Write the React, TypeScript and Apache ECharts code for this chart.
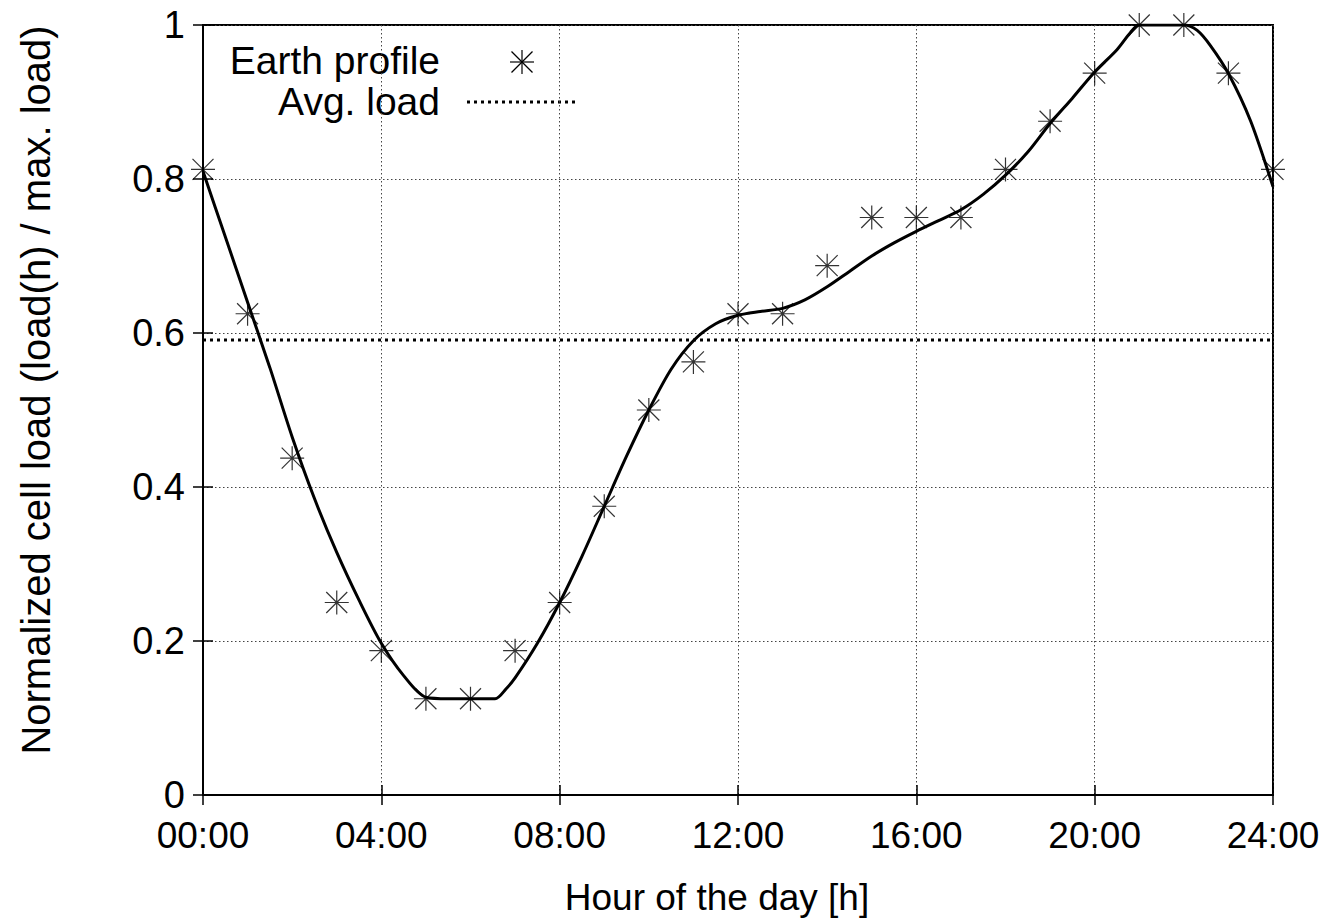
import React, { useEffect, useRef } from "react";
import * as echarts from "echarts";

const hours = [0,1,2,3,4,5,6,7,8,9,10,11,12,13,14,15,16,17,18,19,20,21,22,23,24];
const profile = [0.8125,0.625,0.4375,0.25,0.1875,0.125,0.125,0.1875,0.25,0.375,0.5,0.5625,0.625,0.625,0.6875,0.75,0.75,0.75,0.8125,0.875,0.9375,1,1,0.9375,0.8125];
const curveHours = [0,0.5,1,1.5,2,2.5,3,3.5,4,4.5,5,5.5,6,6.55,6.8,7,7.5,8,8.5,9,9.5,10,10.5,11,11.5,12,12.5,13,13.5,14,14.5,15,15.5,16,16.5,17,17.5,18,18.5,19,19.5,20,20.5,20.8,21,21.5,22,22.3,22.6,23,23.5,24];
const curveValues = [0.81,0.725,0.64,0.555,0.465,0.385,0.315,0.253,0.197,0.155,0.127,0.125,0.125,0.125,0.138,0.152,0.197,0.25,0.31,0.375,0.44,0.5,0.553,0.59,0.612,0.623,0.628,0.632,0.643,0.66,0.68,0.7,0.717,0.732,0.746,0.76,0.78,0.805,0.835,0.872,0.905,0.939,0.968,0.99,1.0,1.0,1.0,0.993,0.973,0.937,0.875,0.79];
const avgLoad = 0.591;
const yTicks = [0, 0.2, 0.4, 0.6, 0.8, 1];
const legendNames = ["Earth profile", "Avg. load"];
const xAxisName = "Hour of the day [h]";
const yAxisName = "Normalized cell load (load(h) / max. load)";

const FONT = "Liberation Sans, Arial, Helvetica, sans-serif";
const STAR = "path://M0 12L24 12M12 0L12 24M1.5 1.5L22.5 22.5M1.5 22.5L22.5 1.5";

export default function App() {
  const ref = useRef<HTMLDivElement>(null);
  useEffect(() => {
    document.body.style.margin = "0";
    const chart = echarts.init(ref.current!, null, { renderer: "svg" });
    const fmtHour = (v: number) => (v < 10 ? "0" : "") + v + ":00";
    const gridLine = { show: true, lineStyle: { color: "#444", width: 1, type: [1.5, 2.5] } };
    const tick = { show: true, inside: true, length: 10, lineStyle: { color: "#000", width: 1.5 } };
    const axLine = { show: true, lineStyle: { color: "#000", width: 2 } };
    chart.setOption({
      animation: false,
      backgroundColor: "#fff",
      textStyle: { fontFamily: FONT },
      grid: { left: 203, right: 56, top: 25, bottom: 127, show: true, borderColor: "#000", borderWidth: 2, backgroundColor: "transparent" },
      xAxis: [
        {
          type: "value", min: 0, max: 24, interval: 4,
          axisLine: axLine, axisTick: tick,
          axisLabel: { fontSize: 37, color: "#000", margin: 22, formatter: fmtHour, fontFamily: FONT },
          splitLine: gridLine,
        },
        {
          type: "value", min: 0, max: 24, interval: 4, position: "top",
          axisLine: axLine, axisTick: tick,
          axisLabel: { show: false }, splitLine: { show: false },
        },
      ],
      yAxis: [
        {
          type: "value", min: 0, max: 1, interval: 0.2,
          axisLine: axLine, axisTick: tick,
          axisLabel: {
            fontSize: 38, color: "#000", margin: 18, fontFamily: FONT,
            formatter: (v: number) => String(yTicks.find((t) => Math.abs(t - v) < 1e-9) ?? v),
          },
          splitLine: gridLine,
        },
        {
          type: "value", min: 0, max: 1, interval: 0.2, position: "right",
          axisLine: axLine, axisTick: tick,
          axisLabel: { show: false }, splitLine: { show: false },
        },
      ],
      series: [
        {
          name: legendNames[0], type: "scatter", xAxisIndex: 0, yAxisIndex: 0,
          data: hours.map((h, i) => [h, profile[i]]),
          symbol: STAR, symbolSize: 24,
          itemStyle: { color: "transparent", borderColor: "#000", borderWidth: 1.2 },
          z: 3,
        },
        {
          name: "fit", type: "line", xAxisIndex: 0, yAxisIndex: 0,
          data: curveHours.map((h, i) => [h, curveValues[i]]),
          showSymbol: false, symbol: "none", smooth: 0.3,
          lineStyle: { color: "#000", width: 3 },
          z: 4,
        },
        {
          name: legendNames[1], type: "line", xAxisIndex: 0, yAxisIndex: 0,
          data: [[0, avgLoad], [24, avgLoad]],
          showSymbol: false, symbol: "none",
          lineStyle: { color: "#000", width: 3, type: [3, 4] },
          z: 4,
        },
      ],
      graphic: [
        {
          type: "text", x: 36, y: 390, rotation: Math.PI / 2,
          style: { text: yAxisName, font: `40px ${FONT}`, fill: "#000", textAlign: "center", textVerticalAlign: "middle" },
        },
        {
          type: "text", x: 717, y: 897,
          style: { text: xAxisName, font: `37px ${FONT}`, fill: "#000", textAlign: "center", textVerticalAlign: "middle" },
        },
        { type: "text", x: 440, y: 60, style: { text: legendNames[0], font: `39px ${FONT}`, fill: "#000", textAlign: "right", textVerticalAlign: "middle" } },
        { type: "text", x: 440, y: 101, style: { text: legendNames[1], font: `39px ${FONT}`, fill: "#000", textAlign: "right", textVerticalAlign: "middle" } },
        {
          type: "group", x: 522, y: 62, children: [
            { type: "line", shape: { x1: -12, y1: 0, x2: 12, y2: 0 }, style: { stroke: "#000", lineWidth: 1.2 } },
            { type: "line", shape: { x1: 0, y1: -12, x2: 0, y2: 12 }, style: { stroke: "#000", lineWidth: 1.2 } },
            { type: "line", shape: { x1: -10.5, y1: -10.5, x2: 10.5, y2: 10.5 }, style: { stroke: "#000", lineWidth: 1.2 } },
            { type: "line", shape: { x1: -10.5, y1: 10.5, x2: 10.5, y2: -10.5 }, style: { stroke: "#000", lineWidth: 1.2 } },
          ],
        },
        { type: "line", shape: { x1: 467, y1: 102, x2: 577, y2: 102 }, style: { stroke: "#000", lineWidth: 3, lineDash: [3, 4] } },
      ],
    });
    return () => chart.dispose();
  }, []);
  return <div ref={ref} style={{ width: 1329, height: 922 }} />;
}
